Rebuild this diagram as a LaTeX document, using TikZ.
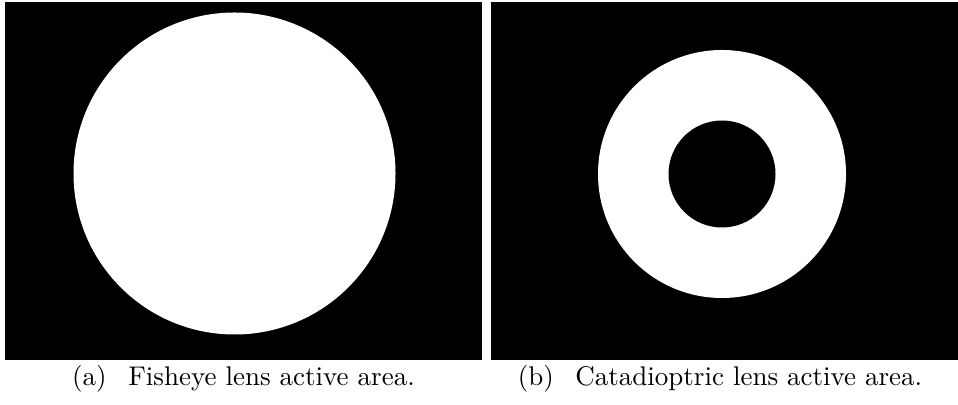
\documentclass[tikz,border=0pt]{standalone}
\usetikzlibrary{positioning}
\tikzset{
    lensbox/.style={fill=black},
    active/.style={fill=white},
    subcap/.style={anchor=base,inner sep=0pt,font=\fontsize{10.8}{13}\selectfont}
}
\def\capsep{\hspace{0.8em}}

\begin{document}
\begin{tikzpicture}[x=0.4pt,y=0.4pt]
    \useasboundingbox (0,0) rectangle (958,405);

    % (a) fisheye
    \begin{scope}
        \fill[lensbox] (5,45) rectangle (482,403);
        \fill[active] (234.5,231.5) circle (161);
        \node[subcap] (capa) at (243.5,19) {(a)\capsep Fisheye lens active area.};
    \end{scope}

    % (b) catadioptric
    \begin{scope}
        \fill[lensbox] (491,45) rectangle (958,403);
        \fill[active] (722,231) circle (124);
        \fill[lensbox] (722,231) circle (53.5);
        \node[subcap] (capb) at (720,19) {(b)\capsep Catadioptric lens active area.};
    \end{scope}

\end{tikzpicture}
\end{document}
